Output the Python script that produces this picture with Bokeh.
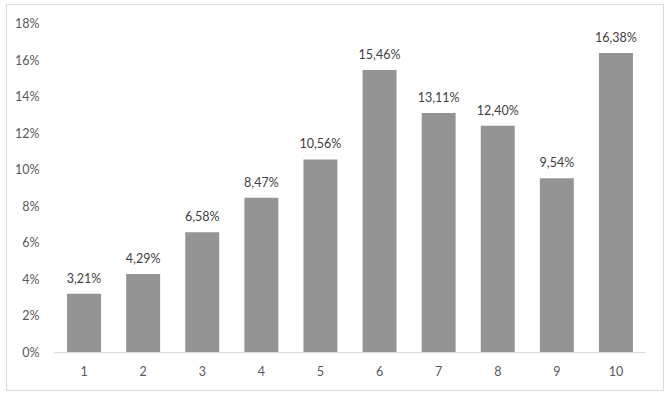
from bokeh.plotting import figure
from bokeh.models import ColumnDataSource, FixedTicker, PrintfTickFormatter, Range1d
from bokeh.core.properties import value
from bokeh.embed import file_html
from bokeh.resources import INLINE

categories = ["1", "2", "3", "4", "5", "6", "7", "8", "9", "10"]
values = [3.21, 4.29, 6.58, 8.47, 10.56, 15.46, 13.11, 12.40, 9.54, 16.38]
labels = ["3,21%", "4,29%", "6,58%", "8,47%", "10,56%", "15,46%", "13,11%", "12,40%", "9,54%", "16,38%"]
y_ticks = [0, 2, 4, 6, 8, 10, 12, 14, 16, 18]

src = ColumnDataSource(dict(cat=categories, val=values, lab=labels))

FONT = "Lato"

p = figure(x_range=categories, y_range=Range1d(0, 18), width=658, height=387,
           output_backend="svg", toolbar_location=None,
           min_border_left=47, min_border_right=20, min_border_top=18, min_border_bottom=40,
           styles={"border": "1px solid #d9d9d9", "margin-left": "6px", "margin-top": "4px"})
p.outline_line_color = None
p.xgrid.grid_line_color = None
p.ygrid.grid_line_color = None
p.x_range.range_padding = 0

p.vbar(x="cat", top="val", width=0.575, source=src, fill_color="#949494", line_color=None)
p.text(x="cat", y="val", text="lab", source=src, text_align="center", text_baseline="bottom",
       y_offset=-8, text_font=value(FONT), text_font_size="12.5px", text_color="#404040")

p.yaxis.ticker = FixedTicker(ticks=y_ticks)
p.yaxis.formatter = PrintfTickFormatter(format="%d%%")
p.yaxis.axis_line_color = None
p.yaxis.major_tick_line_color = None
p.yaxis.minor_tick_line_color = None
p.yaxis.major_label_standoff = 9
p.xaxis.axis_line_color = "#d9d9d9"
p.xaxis.major_tick_line_color = None
p.xaxis.minor_tick_line_color = None
p.xaxis.major_label_standoff = 7
for ax in (p.xaxis, p.yaxis):
    ax.major_label_text_font = FONT
    ax.major_label_text_font_size = "12.5px"
    ax.major_label_text_color = "#595959"

open("out.html", "w").write(file_html(p, INLINE))
